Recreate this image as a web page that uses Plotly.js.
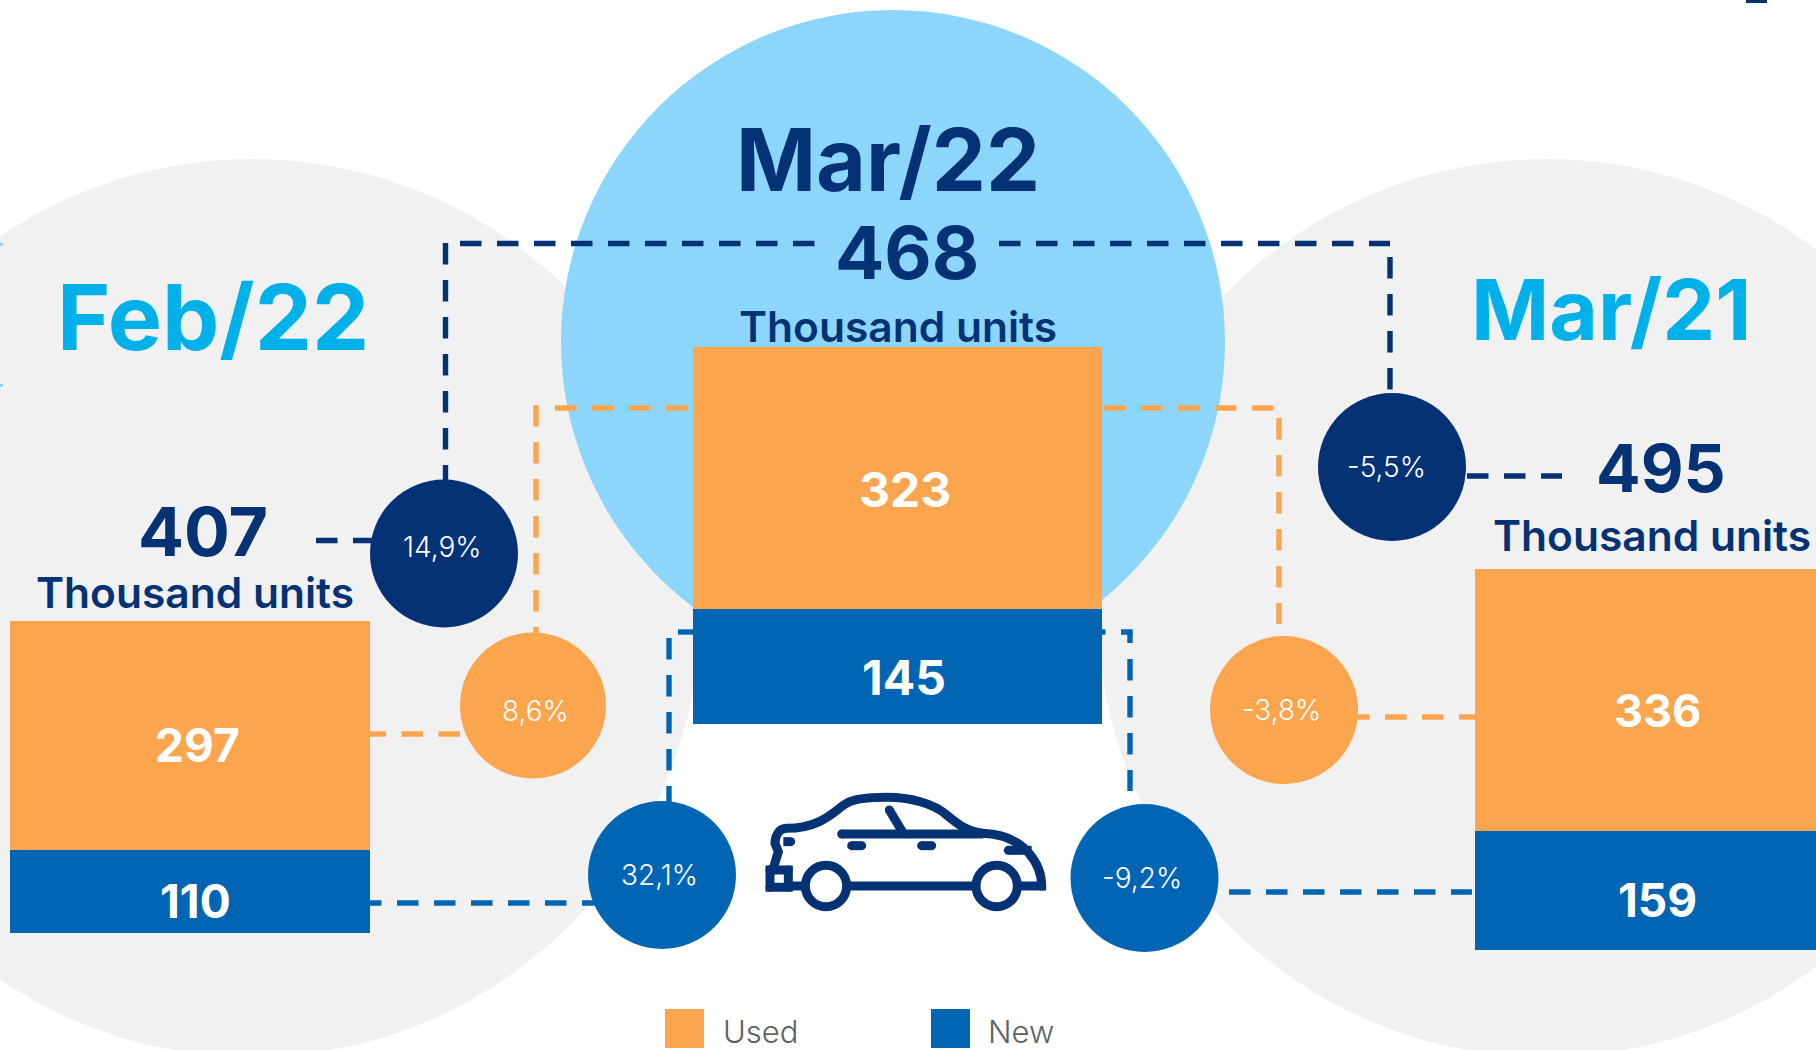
<!DOCTYPE html>
<html>
<head>
<meta charset="utf-8">
<script src="https://cdn.plot.ly/plotly-3.0.1.min.js"></script>
<style>html,body{margin:0;padding:0;background:#fff}#chart{width:1816px;height:1050px}</style>
</head>
<body>
<div id="chart"></div>
<script>
// ---- data ----
const periods = ['Feb/22', 'Mar/22', 'Mar/21'];
const usedUnits = [297, 323, 336];
const newUnits = [110, 145, 159];
const totalUnits = [407, 468, 495];
const unitLabel = 'Thousand units';
const changeTotal = ['14,9%', '-5,5%'];
const changeUsed = ['8,6%', '-3,8%'];
const changeNew = ['32,1%', '-9,2%'];
const legendLabels = ['Used', 'New'];

// ---- styling ----
const W = 1816, H = 1050;
const NAVY = '#053274', ORANGE = '#FBA54E', BLUE = '#0265B4', CYAN = '#00B1E9', SKY = '#8DD6FB', GREY = '#F1F1F1';
const FONT = 'Inter, Lato, sans-serif';
const px = x => x / W, py = y => 1 - y / H;

const shapes = [];
const disc = (cx, cy, r, color) => shapes.push({type:'circle', xref:'paper', yref:'paper', layer:'below',
  x0:px(cx-r), x1:px(cx+r), y0:py(cy+r), y1:py(cy-r), fillcolor:color, line:{width:0}});
const rect = (x0, y0, x1, y1, color) => shapes.push({type:'rect', xref:'paper', yref:'paper', layer:'below',
  x0:px(x0), x1:px(x1), y0:py(y1), y1:py(y0), fillcolor:color, line:{width:0}});
const dashed = (x0, y0, x1, y1, color) => shapes.push({type:'line', xref:'paper', yref:'paper', layer:'below',
  x0:px(x0), x1:px(x1), y0:py(y0), y1:py(y1), line:{color:color, width:5.4, dash:'21.5px,15.5px'}});

// background discs
disc(252, 608, 449, GREY);
disc(1546, 608, 449, GREY);
disc(893, 342, 332, SKY);

// connectors
dashed(445.5, 243, 445.5, 485, NAVY);
dashed(460, 243.5, 815, 243.5, NAVY);
dashed(999, 243.5, 1390, 243.5, NAVY);
dashed(1390, 257, 1390, 392, NAVY);
dashed(316, 540.5, 380, 540.5, NAVY);
dashed(1467, 476, 1562, 476, NAVY);
dashed(536, 405, 536, 636, ORANGE);
dashed(555, 408, 688, 408, ORANGE);
dashed(1104, 408, 1274, 408, ORANGE);
dashed(1279, 418, 1279, 624, ORANGE);
dashed(460, 734, 370, 734, ORANGE);
dashed(1348, 717, 1480, 717, ORANGE);
dashed(360, 903, 600, 903, BLUE);
dashed(669, 638, 669, 805, BLUE);
dashed(678, 632, 700, 632, BLUE);
dashed(1084, 632, 1132.7, 632, BLUE);
dashed(1130, 632, 1130, 643, BLUE);
dashed(1130, 659, 1130, 791, BLUE);
dashed(1229, 892, 1472, 892, BLUE);

// change discs
disc(444, 553.5, 74, NAVY);
disc(1392, 467, 74, NAVY);
disc(533, 705.5, 73, ORANGE);
disc(1284, 710, 74, ORANGE);
disc(662, 875, 74, BLUE);
disc(1144.5, 878, 74, BLUE);

// edge fragments of the cropped source
rect(1746, 0, 1767, 3, NAVY);
rect(0, 243, 3, 246, SKY);
rect(0, 384, 3, 387, SKY);

// car icon
const cX = z => px(750 + z / 3), cY = z => py(780 + z / 3);
const carPath = (pts, color) => {
  const d = pts.map(p => p[0] + p.slice(1).map((v, i) => (i % 2 === 0 ? cX(v) : cY(v))).join(' ')).join(' ');
  shapes.push({type:'path', xref:'paper', yref:'paper', layer:'below', path:d, line:{color:NAVY, width:9}});
};
const carEnd = (zx, zy) => disc(750 + zx / 3, 780 + zy / 3, 4.5, NAVY);
carPath([['M',295,318],['L',670,318]]);
carPath([['M',810,318],['L',875,318],['C',875,260,830,165,700,160],['C',650,155,620,130,590,105],
         ['C',550,70,480,52,410,52],['C',350,52,310,58,290,70],['C',260,85,220,145,110,145],
         ['C',85,145,75,170,75,190],['L',85,215],['L',70,265]]);
carPath([['M',60,270],['L',115,270],['L',115,322],['L',60,322],['Z']]);
carPath([['M',115,318],['L',160,318]]);
carPath([['M',275,162],['L',700,162]]);
carPath([['M',418,90],['L',460,160]]);
carPath([['M',100,185],['L',122,185]]);
carPath([['M',305,197],['L',335,197]]);
carPath([['M',515,197],['L',545,197]]);
carPath([['M',775,211],['L',845,211]]);
[[275,162],[418,90],[122,185],[305,197],[335,197],[515,197],[545,197],[775,211],[875,318],[60,270],[60,322],[115,270],[115,322]]
  .forEach(p => carEnd(p[0], p[1]));
[[228,318],[740,318]].forEach(c => shapes.push({type:'circle', xref:'paper', yref:'paper', layer:'below',
  x0:cX(c[0]-62), x1:cX(c[0]+62), y0:cY(c[1]+62), y1:cY(c[1]-62), fillcolor:'#fff', line:{color:NAVY, width:9}}));

// legend swatches
rect(665, 1009, 704, 1048, ORANGE);
rect(931, 1009, 970, 1048, BLUE);

// ---- text ----
const annotations = [];
const label = (text, x, y, size, color, weight) => annotations.push({text:text, xref:'paper', yref:'paper',
  x:px(x), y:py(y), xanchor:'center', yanchor:'middle', showarrow:false,
  font:{family:FONT, size:size, color:color, weight:weight}});

label(periods[0], 213, 317, 91, CYAN, 700);
label(periods[1], 888, 160, 86, NAVY, 700);
label(periods[2], 1611, 309, 84, CYAN, 700);
label(String(totalUnits[0]), 203, 531, 68, NAVY, 700);
label(String(totalUnits[1]), 907, 253, 73, NAVY, 700);
label(String(totalUnits[2]), 1661, 468, 66, NAVY, 700);
label(unitLabel, 195, 592, 42.5, NAVY, 600);
label(unitLabel, 898, 327, 42.5, NAVY, 600);
label(unitLabel, 1652, 535, 42.5, NAVY, 600);
label(String(usedUnits[0]), 197, 745, 46, '#fff', 700);
label(String(newUnits[0]), 195, 901, 46, '#fff', 700);
label(String(usedUnits[1]), 905, 489, 48, '#fff', 700);
label(String(newUnits[1]), 904, 677, 48, '#fff', 700);
label(String(usedUnits[2]), 1657, 710, 45, '#fff', 700);
label(String(newUnits[2]), 1657, 900, 46, '#fff', 700);
label(changeTotal[0], 442, 547, 28, '#fff', 300);
label(changeTotal[1], 1386, 467, 28, '#fff', 300);
label(changeUsed[0], 535.5, 711, 28, '#fff', 300);
label(changeUsed[1], 1281, 710, 28, '#fff', 300);
label(changeNew[0], 659, 875, 28, '#fff', 300);
label(changeNew[1], 1142, 878, 28, '#fff', 300);
label(legendLabels[0], 760, 1031, 31, '#5C6161', 300);
label(legendLabels[1], 1021, 1031, 31, '#5C6161', 300);

// ---- bars: one small stacked panel per period ----
const panels = [
  {x:[10, 370], y:[621, 933], range:[2.35, 407]},
  {x:[693, 1102], y:[347, 724], range:[3.2, 468]},
  {x:[1475, 1816], y:[569, 950], range:[6.4, 495]}
];
const traces = [];
const layout = {
  width:W, height:H, margin:{l:0, r:0, t:0, b:0, pad:0}, showlegend:false,
  paper_bgcolor:'#fff', plot_bgcolor:'rgba(0,0,0,0)', barmode:'stack', bargap:0,
  shapes:shapes, annotations:annotations
};
panels.forEach((p, i) => {
  const sfx = i === 0 ? '' : String(i + 1);
  traces.push({type:'bar', name:legendLabels[1], x:[periods[i]], y:[newUnits[i]], marker:{color:BLUE, line:{width:0}}, xaxis:'x'+sfx, yaxis:'y'+sfx, hoverinfo:'x+y+name'});
  traces.push({type:'bar', name:legendLabels[0], x:[periods[i]], y:[usedUnits[i]], marker:{color:ORANGE, line:{width:0}}, xaxis:'x'+sfx, yaxis:'y'+sfx, hoverinfo:'x+y+name'});
  layout['xaxis'+sfx] = {domain:[px(p.x[0]), px(p.x[1])], range:[-0.5, 0.5], visible:false, fixedrange:true, anchor:'y'+sfx, type:'category'};
  layout['yaxis'+sfx] = {domain:[py(p.y[1]), py(p.y[0])], range:p.range, visible:false, fixedrange:true, anchor:'x'+sfx};
});

Plotly.newPlot('chart', traces, layout, {displayModeBar:false, responsive:false});
</script>
</body>
</html>
